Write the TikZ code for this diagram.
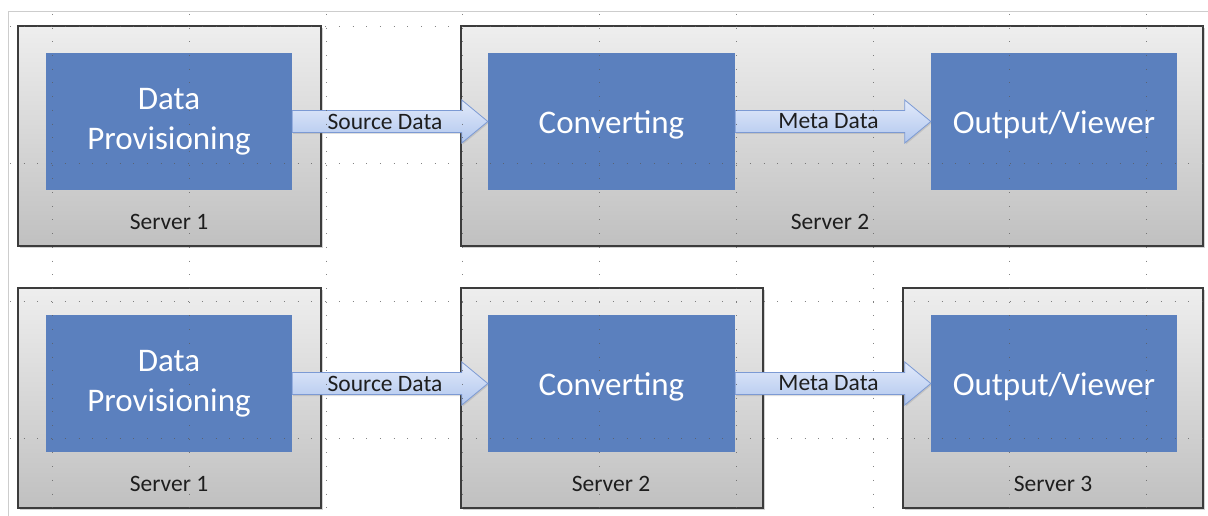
\documentclass[tikz,border=0pt]{standalone}
\usepackage{fontspec}
\setmainfont{Carlito}
\usetikzlibrary{calc,shadows}
\definecolor{procblue}{RGB}{91,128,190}
\definecolor{srvtop}{RGB}{238,238,238}
\definecolor{srvbot}{RGB}{192,192,192}
\definecolor{srvline}{RGB}{60,60,60}
\definecolor{arrtop}{RGB}{226,234,250}
\definecolor{arrbot}{RGB}{176,198,238}
\definecolor{arrline}{RGB}{124,154,212}
\definecolor{frameline}{RGB}{205,205,205}
\definecolor{gridcol}{RGB}{90,90,90}
\definecolor{labeltext}{RGB}{30,30,30}
\newcommand{\lowtext}[1]{\raisebox{-3pt}[\height][\depth]{#1}}
\tikzset{
  srvbox/.style={draw=srvline, line width=1.2pt, top color=srvtop, bottom color=srvbot,
    inner sep=0pt, drop shadow={shadow xshift=1.8pt, shadow yshift=-1.8pt, opacity=0.35}},
  procbox/.style={fill=procblue, draw=none, inner sep=0pt, minimum width=246pt, minimum height=137pt,
    text=white, font=\fontsize{33}{40}\selectfont, align=center},
  srvlabel/.style={inner sep=0pt, text=labeltext, font=\fontsize{23.5}{26}\selectfont},
  arrlabel/.style={inner sep=0pt, text=labeltext, font=\fontsize{23.5}{26}\selectfont},
  barrow/.style={draw=arrline, line width=0.8pt, top color=arrtop, bottom color=arrbot,
    drop shadow={shadow xshift=1pt, shadow yshift=-1.5pt, opacity=0.25}},
  gridline/.style={draw=gridcol, line width=0.9pt, dash pattern=on 0.9pt off 12.8pt, opacity=0.75},
}
\begin{document}
\begin{tikzpicture}[x=1pt,y=-1pt]
\useasboundingbox (0,0) rectangle (1208,516);
\fill[white] (0,0) rectangle (1208,516);
% frame lines of sheet
\coordinate (fA) at (8,516);
\coordinate (fB) at (8,12);
\coordinate (fC) at (1208,12);
\draw[frameline, line width=1pt] (fA) -- (fB) -- (fC);

% ---------- top row ----------
\node[srvbox, minimum width=303pt, minimum height=220pt] (s1t) at (169.5,136) {};
\node[srvbox, minimum width=742pt, minimum height=220pt] (s2t) at (832,136) {};
\node[srvlabel] (s1tl) at (169,222) {Server 1};
\node[srvlabel] (s2tl) at (830,222) {Server 2};

\node[procbox] (dp1) at (169,121.5) {Data\\Provisioning};
\node[procbox, minimum width=247pt] (cv1) at (611.5,121.5) {\lowtext{Converting}};
\node[procbox] (ov1) at (1054,121.5) {\lowtext{Output/Viewer}};

% ---------- bottom row ----------
\node[srvbox, minimum width=303pt, minimum height=220pt] (s1b) at (169.5,398) {};
\node[srvbox, minimum width=302pt, minimum height=220pt] (s2b) at (612,398) {};
\node[srvbox, minimum width=300pt, minimum height=220pt] (s3b) at (1053,398) {};
\node[srvlabel] (s1bl) at (169,484) {Server 1};
\node[srvlabel] (s2bl) at (611,484) {Server 2};
\node[srvlabel] (s3bl) at (1053,484) {Server 3};

\node[procbox] (dp2) at (169,383.5) {Data\\Provisioning};
\node[procbox, minimum width=247pt] (cv2) at (611.5,383.5) {\lowtext{Converting}};
\node[procbox] (ov2) at (1054,383.5) {\lowtext{Output/Viewer}};

% ---------- block arrows ----------
\foreach \a/\b in {dp1/cv1, cv1/ov1, dp2/cv2, cv2/ov2}{
  \path[barrow] ($(\a.east)+(0,-11)$) -- ($(\b.west)+(-26,-11)$) -- ($(\b.west)+(-26,-21.5)$)
     -- (\b.west) -- ($(\b.west)+(-26,21.5)$) -- ($(\b.west)+(-26,11)$) -- ($(\a.east)+(0,11)$) -- cycle;
}
\node[arrlabel] (sd1) at ($($(dp1.east)!0.5!(cv1.west)$)+(-5,0)$) {Source Data};
\node[arrlabel] (md1) at ($($(cv1.east)!0.5!(ov1.west)$)+(-4.5,0)$) {Meta Data};
\node[arrlabel] (sd2) at ($($(dp2.east)!0.5!(cv2.west)$)+(-5,0)$) {Source Data};
\node[arrlabel] (md2) at ($($(cv2.east)!0.5!(ov2.west)$)+(-4.5,0)$) {Meta Data};

% ---------- dotted grid on top ----------
\foreach \gx in {52,189,326,462,599,736,873,1009,1146}{
  \draw[gridline] (\gx,14) -- (\gx,516);
}
\foreach \gy in {26,163,301,438}{
  \draw[gridline] (10,\gy) -- (1208,\gy);
}
\end{tikzpicture}
\end{document}
